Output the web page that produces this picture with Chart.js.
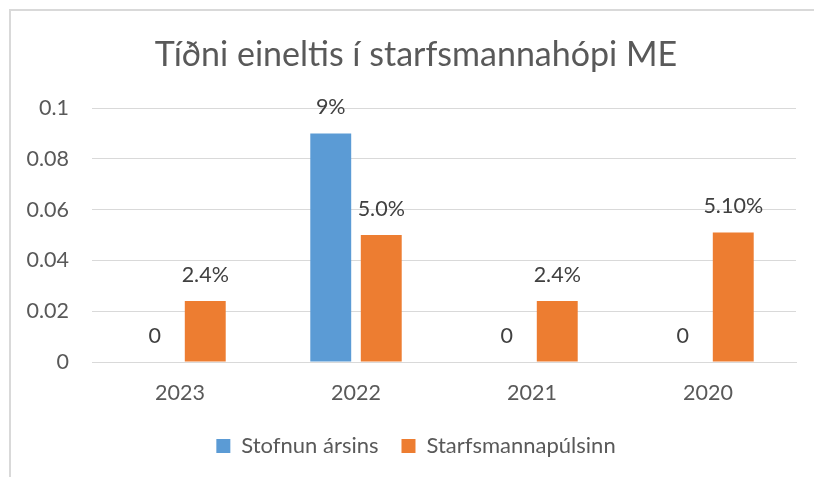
<!DOCTYPE html>
<html>
<head>
<meta charset="utf-8">
<script src="https://cdn.jsdelivr.net/npm/chart.js@4/dist/chart.umd.min.js"></script>
<style>
  html, body { margin: 0; padding: 0; overflow: hidden; background: #fff; }
  #frame { position: absolute; left: 9px; top: 9px; width: 818px; height: 470px; border: 2px solid #d9d9d9; }
</style>
</head>
<body>
<div id="frame"><canvas id="myChart" width="818" height="470"></canvas></div>
<script>
// chart data
const years = ["2023", "2022", "2021", "2020"];
const stofnunValues = [0, 0.09, 0, 0];
const pulsinnValues = [0.024, 0.05, 0.024, 0.051];
const stofnunLabels = ["0", "9%", "0", "0"];
const pulsinnLabels = ["2.4%", "5.0%", "2.4%", "5.10%"];
const yTicks = [0, 0.02, 0.04, 0.06, 0.08, 0.1];

const FONT = "Lato, 'Noto Sans', sans-serif";

// value labels above each bar
const barLabels = {
  id: "barLabels",
  afterDatasetsDraw(chart) {
    const ctx = chart.ctx;
    ctx.save();
    ctx.font = "21.5px " + FONT;
    ctx.fillStyle = "#404040";
    ctx.textAlign = "center";
    ctx.textBaseline = "middle";
    chart.data.datasets.forEach((ds, i) => {
      const meta = chart.getDatasetMeta(i);
      meta.data.forEach((bar, j) => {
        ctx.fillText(ds.valueLabels[j], bar.x, bar.y - 26);
      });
    });
    ctx.restore();
  },
};

var ctx = document.getElementById("myChart").getContext("2d");
var myChart = new Chart(ctx, {
  type: "bar",
  data: {
    labels: years,
    datasets: [
      {
        label: "Stofnun ársins",
        data: stofnunValues,
        valueLabels: stofnunLabels,
        backgroundColor: "#5b9bd5",
        categoryPercentage: 0.574,
        barPercentage: 0.81,
      },
      {
        label: "Starfsmannapúlsinn",
        data: pulsinnValues,
        valueLabels: pulsinnLabels,
        backgroundColor: "#ed7d31",
        categoryPercentage: 0.574,
        barPercentage: 0.81,
      },
    ],
  },
  options: {
    responsive: false,
    animation: false,
    layout: { padding: { top: 0, right: 8, bottom: 14, left: 0 } },
    plugins: {
      title: {
        display: true,
        text: "Tíðni eineltis í starfsmannahópi ME",
        color: "#595959",
        font: { family: FONT, size: 34, weight: "normal", lineHeight: 1.2 },
        padding: { top: 23.6, bottom: 32.6 },
      },
      legend: {
        position: "bottom",
        labels: {
          color: "#595959",
          font: { family: FONT, size: 22 },
          boxWidth: 14,
          boxHeight: 14,
          padding: 23,
        },
      },
      tooltip: { enabled: false },
    },
    scales: {
      x: {
        grid: { display: false, drawTicks: false },
        border: { display: true, color: "#d9d9d9", width: 1 },
        ticks: { color: "#595959", font: { family: FONT, size: 21.5 }, padding: 18 },
        afterFit(scale) { scale.height = 50; },
      },
      y: {
        min: 0,
        max: 0.1,
        afterBuildTicks(scale) { scale.ticks = yTicks.map((v) => ({ value: v })); },
        grid: { color: "#d9d9d9", drawTicks: false },
        border: { display: false },
        ticks: {
          color: "#595959",
          font: { family: FONT, size: 21.5 },
          padding: 23,
          callback: (v) => String(v),
        },
        afterFit(scale) { scale.width = 81; },
      },
      // empty strip on the right, keeps title and legend centred like the original
      yRight: {
        position: "right",
        grid: { display: false, drawTicks: false },
        border: { display: false },
        ticks: { display: false },
        afterFit(scale) { scale.width = 25; },
      },
    },
  },
  plugins: [barLabels],
});
</script>
</body>
</html>
